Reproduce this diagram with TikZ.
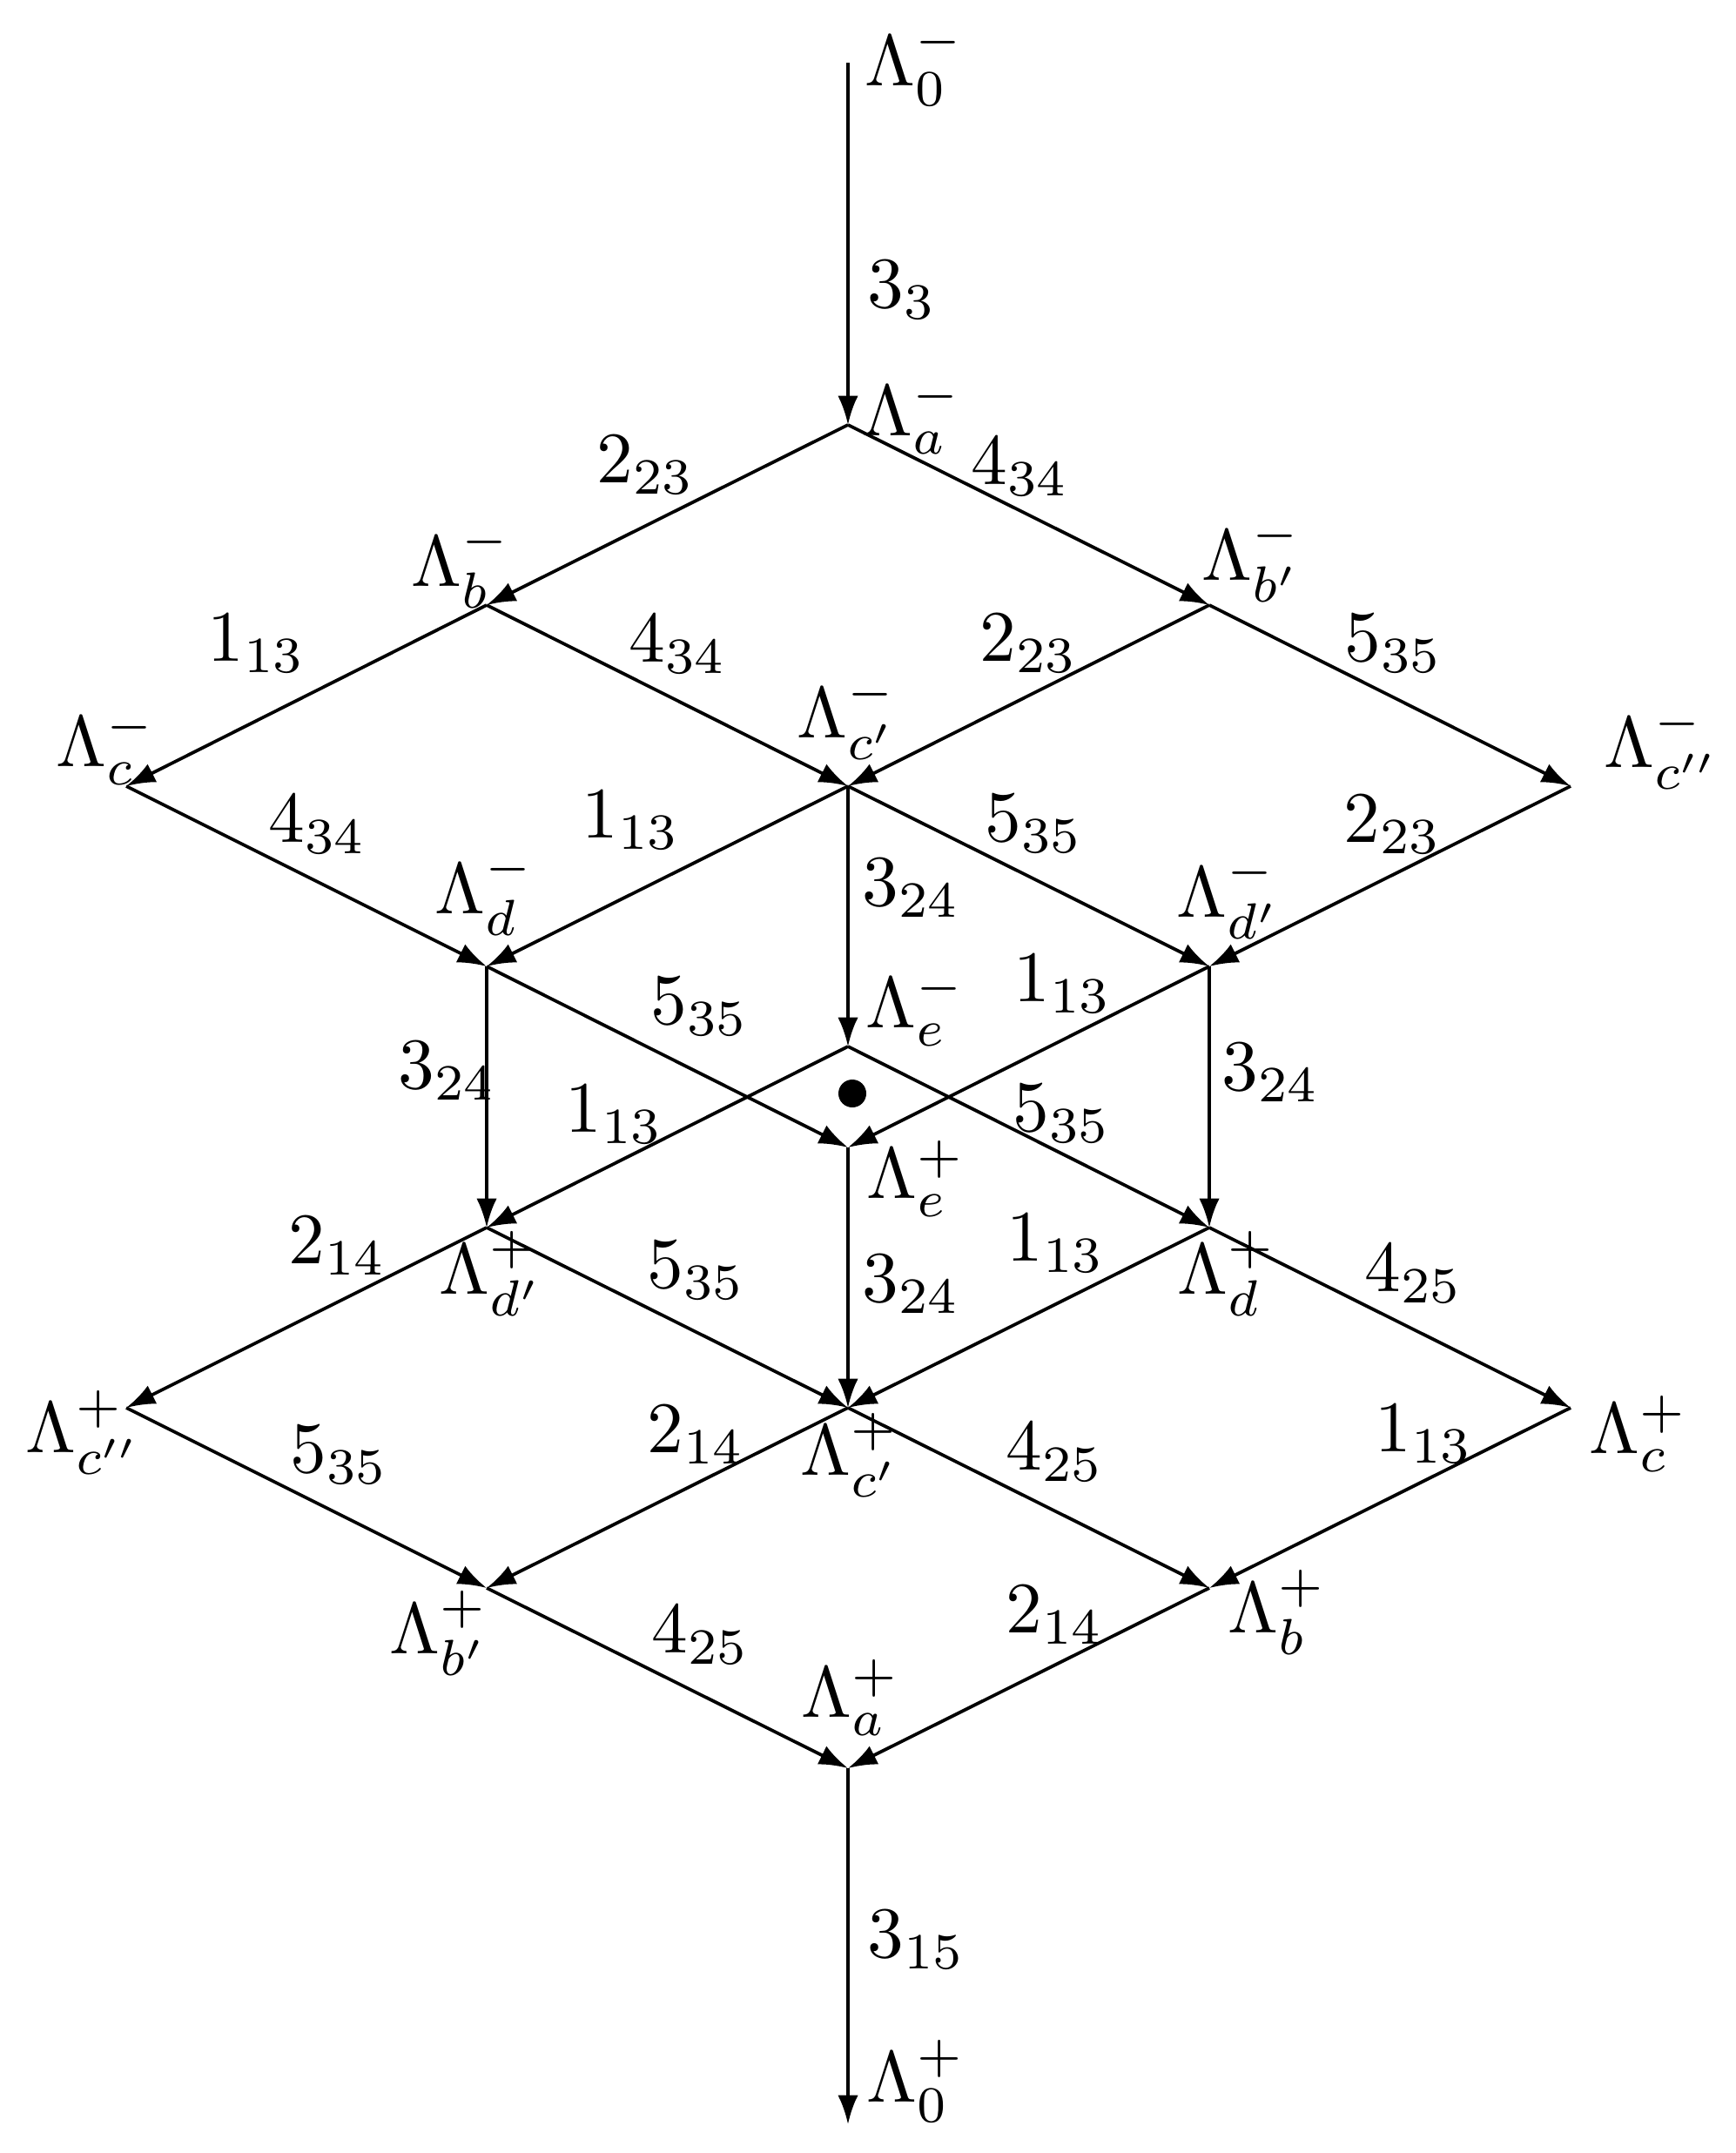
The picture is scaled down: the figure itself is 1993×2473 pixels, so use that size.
\documentclass[tikz,border=0pt]{standalone}
\usetikzlibrary{arrows.meta}
\begin{document}
\begin{tikzpicture}[x=0.12pt,y=-0.12pt,
  edge/.style={line width=0.45pt,-{Latex[length=4pt,width=2.8pt]}},
  lab/.style={inner sep=0pt,xshift=0.9pt}]
\useasboundingbox (0,0) rectangle (1993,2473);
% vertices
\coordinate (vT) at (974,72);
\coordinate (vAm) at (974,488);
\coordinate (vBm) at (559,695);
\coordinate (vBPm) at (1389,695);
\coordinate (vCm) at (145,903);
\coordinate (vCPm) at (974,903);
\coordinate (vCPPm) at (1804,903);
\coordinate (vDm) at (559,1110);
\coordinate (vDPm) at (1389,1110);
\coordinate (vEm) at (974,1202);
\coordinate (vEp) at (974,1318);
\coordinate (vDPp) at (559,1410);
\coordinate (vDp) at (1389,1410);
\coordinate (vCPPp) at (145,1617);
\coordinate (vCPp) at (974,1617);
\coordinate (vCp) at (1804,1617);
\coordinate (vBPp) at (559,1824);
\coordinate (vBp) at (1389,1824);
\coordinate (vAp) at (974,2031);
\coordinate (vB) at (974,2440);
% vertex labels
\node[lab] (L0m) at (1043,74) {$\Lambda^-_0$};
\node[lab] (LAm) at (1040,478) {$\Lambda^-_a$};
\node[lab] (LBm) at (522,650) {$\Lambda^-_b$};
\node[lab] (LBPm) at (1430,643) {$\Lambda^-_{b'}$};
\node[lab] (LCm) at (114,858) {$\Lambda^-_c$};
\node[lab] (LCPm) at (965,824) {$\Lambda^-_{c'}$};
\node[lab] (LCPPm) at (1901,858) {$\Lambda^-_{c''}$};
\node[lab] (LDm) at (549,1026) {$\Lambda^-_d$};
\node[lab] (LDPm) at (1404,1030) {$\Lambda^-_{d'}$};
\node[lab] (LEm) at (1044,1158) {$\Lambda^-_e$};
\node[lab] (LEp) at (1045,1354) {$\Lambda^+_e$};
\node[lab] (LDPp) at (557,1463) {$\Lambda^+_{d'}$};
\node[lab] (LDp) at (1402,1463) {$\Lambda^+_d$};
\node[lab] (LCPPp) at (88,1645) {$\Lambda^+_{c''}$};
\node[lab] (LCPp) at (969,1671) {$\Lambda^+_{c'}$};
\node[lab] (LCp) at (1875,1647) {$\Lambda^+_c$};
\node[lab] (LBPp) at (497,1876) {$\Lambda^+_{b'}$};
\node[lab] (LBp) at (1460,1852) {$\Lambda^+_b$};
\node[lab] (LAp) at (970,1950) {$\Lambda^+_a$};
\node[lab] (L0p) at (1045,2390) {$\Lambda^+_0$};
% edges
\draw[edge] (vT) -- (vAm);
\draw[edge] (vAm) -- (vBm);
\draw[edge] (vAm) -- (vBPm);
\draw[edge] (vBm) -- (vCm);
\draw[edge] (vBm) -- (vCPm);
\draw[edge] (vBPm) -- (vCPm);
\draw[edge] (vBPm) -- (vCPPm);
\draw[edge] (vCm) -- (vDm);
\draw[edge] (vCPm) -- (vDm);
\draw[edge] (vCPm) -- (vDPm);
\draw[edge] (vCPPm) -- (vDPm);
\draw[edge] (vCPm) -- (vEm);
\draw[edge] (vDm) -- (vDPp);
\draw[edge] (vDPm) -- (vDp);
\draw[edge] (vDm) -- (vEp);
\draw[edge] (vDPm) -- (vEp);
\draw[edge] (vEm) -- (vDPp);
\draw[edge] (vEm) -- (vDp);
\draw[edge] (vEp) -- (vCPp);
\draw[edge] (vDPp) -- (vCPPp);
\draw[edge] (vDPp) -- (vCPp);
\draw[edge] (vDp) -- (vCPp);
\draw[edge] (vDp) -- (vCp);
\draw[edge] (vCPPp) -- (vBPp);
\draw[edge] (vCPp) -- (vBPp);
\draw[edge] (vCPp) -- (vBp);
\draw[edge] (vCp) -- (vBp);
\draw[edge] (vBPp) -- (vAp);
\draw[edge] (vBp) -- (vAp);
\draw[edge] (vAp) -- (vB);
% dot
\fill (979,1256) circle[radius=16];
% edge labels
\node[lab] (e1) at (1029,333) {$3_3$};
\node[lab] (e2) at (734,534) {$2_{23}$};
\node[lab] (e3) at (1164,536) {$4_{34}$};
\node[lab] (e4) at (287,739) {$1_{13}$};
\node[lab] (e5) at (771,740) {$4_{34}$};
\node[lab] (e6) at (1174,739) {$2_{23}$};
\node[lab] (e7) at (1593,739) {$5_{35}$};
\node[lab] (e8) at (357,947) {$4_{34}$};
\node[lab] (e9) at (717,942) {$1_{13}$};
\node[lab] (e10) at (1180,946) {$5_{35}$};
\node[lab] (e11) at (1592,947) {$2_{23}$};
\node[lab] (e12) at (1039,1020) {$3_{24}$};
\node[lab] (e13) at (506,1230) {$3_{24}$};
\node[lab] (e14) at (796,1156) {$5_{35}$};
\node[lab] (e15) at (1213,1130) {$1_{13}$};
\node[lab] (e16) at (698,1280) {$1_{13}$};
\node[lab] (e17) at (1212,1279) {$5_{35}$};
\node[lab] (e18) at (1452,1232) {$3_{24}$};
\node[lab] (e19) at (380,1431) {$2_{14}$};
\node[lab] (e20) at (792,1459) {$5_{35}$};
\node[lab] (e21) at (1039,1475) {$3_{24}$};
\node[lab] (e22) at (1205,1428) {$1_{13}$};
\node[lab] (e23) at (1616,1463) {$4_{25}$};
\node[lab] (e24) at (382,1671) {$5_{35}$};
\node[lab] (e25) at (792,1648) {$2_{14}$};
\node[lab] (e26) at (1204,1668) {$4_{25}$};
\node[lab] (e27) at (1628,1647) {$1_{13}$};
\node[lab] (e28) at (797,1878) {$4_{25}$};
\node[lab] (e29) at (1204,1855) {$2_{14}$};
\node[lab] (e30) at (1045,2228) {$3_{15}$};
\end{tikzpicture}
\end{document}
